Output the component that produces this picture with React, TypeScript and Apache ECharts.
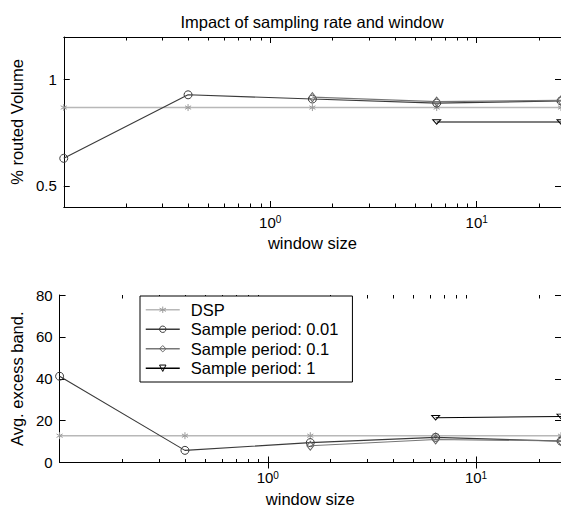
import React, { useEffect, useRef } from "react";
import * as echarts from "echarts";

const FONT = "'Liberation Sans', Arial, Helvetica, sans-serif";
const LABEL_SIZE = 16.5;

// window sizes (x values, log axis)
const windowSizes = [0.1, 0.4, 1.6, 6.4, 25.6];
const seriesNames = ["DSP", "Sample period: 0.01", "Sample period: 0.1", "Sample period: 1"];

// Top panel: % routed Volume
const routedDSP = [0.868, 0.868, 0.868, 0.868, 0.868];
const routed001 = [0.629, 0.928, 0.908, 0.889, 0.899];
const routed01 = [null, null, 0.917, 0.896, 0.902];
const routed1 = [null, null, null, 0.8, 0.8];

// Bottom panel: Avg. excess band.
const bandDSP = [12.8, 12.8, 12.8, 12.8, 12.8];
const band001 = [41.2, 5.8, 9.5, 12.0, 10.2];
const band01 = [null, null, 8.0, 11.0, 10.3];
const band1 = [null, null, null, 21.4, 22.0];

// Ticks
const xMajorTicks = [1, 10];
const xMinorTicks = [0.2, 0.3, 0.4, 0.5, 0.6, 0.7, 0.8, 0.9, 2, 3, 4, 5, 6, 7, 8, 9, 20];
const topYTicks = [0.5, 1];
const bottomYTicks = [0, 20, 40, 60, 80];

const X_MIN = 0.1;
const X_MAX = 25.6;
const TOP_Y = [0.4, 1.2];
const BOT_Y = [0, 80];

const styles = [
  {
    color: "#b8b8b8",
    symbolColor: "#9a9a9a",
    width: 1.5,
    symbol: "path://M5,0L5,10M0.67,2.5L9.33,7.5M0.67,7.5L9.33,2.5",
    size: 7,
  },
  { color: "#3a3a3a", symbolColor: "#3a3a3a", width: 1.1, symbol: "circle", size: 8 },
  { color: "#777777", symbolColor: "#666666", width: 1.1, symbol: "diamond", size: [7, 9] },
  { color: "#000000", symbolColor: "#000000", width: 1.1, symbol: "path://M0,0L10,0L5,7.5Z", size: [8, 6] },
];

function pairs(vals: (number | null)[]) {
  return windowSizes
    .map((x, i) => [x, vals[i]])
    .filter((p) => p[1] !== null && p[1] !== undefined);
}

function makeSeries(idx: number, vals: (number | null)[], xAxisIndex: number, yAxisIndex: number) {
  const s = styles[idx];
  return {
    type: "line",
    name: seriesNames[idx],
    xAxisIndex,
    yAxisIndex,
    data: pairs(vals),
    symbol: s.symbol,
    symbolSize: s.size,
    symbolKeepAspect: true,
    showAllSymbol: true,
    clip: false,
    lineStyle: { color: s.color, width: s.width },
    itemStyle: { color: "rgba(255,255,255,0)", borderColor: s.symbolColor, borderWidth: 1 },
    emphasis: { disabled: true },
    z: 3 + idx,
  };
}

function minorTicks(xAxisIndex: number, yAxisIndex: number, yr: number[]) {
  return {
    type: "custom",
    xAxisIndex,
    yAxisIndex,
    silent: true,
    clip: false,
    data: xMinorTicks.map((v) => [v, yr[0]]),
    encode: { x: 0, y: 1 },
    z: 10,
    renderItem: (_params: any, api: any) => {
      const x = api.value(0);
      const b = api.coord([x, yr[0]]);
      const t = api.coord([x, yr[1]]);
      const px = Math.round(b[0]) + 0.5;
      return {
        type: "group",
        children: [
          { type: "line", shape: { x1: px, y1: b[1], x2: px, y2: b[1] - 3.5 }, style: { stroke: "#000", lineWidth: 1 } },
          { type: "line", shape: { x1: px, y1: t[1], x2: px, y2: t[1] + 3.5 }, style: { stroke: "#000", lineWidth: 1 } },
        ],
      };
    },
  };
}

const rich = {
  b: { fontSize: 15, lineHeight: 15, padding: [5, 0, 0, 0], verticalAlign: "bottom", color: "#000", fontFamily: FONT },
  s: { fontSize: 10, lineHeight: 10, verticalAlign: "top", color: "#000", fontFamily: FONT },
};

function xAxisPair(gridIndex: number) {
  const common = {
    gridIndex,
    type: "log",
    logBase: 10,
    min: X_MIN,
    max: X_MAX,
    axisLine: { show: true, lineStyle: { color: "#000", width: 1 } },
    axisTick: { show: true, inside: true, length: 6, customValues: xMajorTicks, lineStyle: { color: "#000" } },
    splitLine: { show: false },
    minorTick: { show: false },
  };
  return [
    {
      ...common,
      position: "bottom",
      name: "window size",
      nameLocation: "middle",
      nameGap: 27.5,
      nameTextStyle: { fontSize: LABEL_SIZE, color: "#000", fontFamily: FONT },
      axisLabel: {
        show: true,
        margin: 7.5,
        customValues: xMajorTicks,
        formatter: (v: number) => `{b|10}{s|${Math.round(Math.log10(v))}}`,
        rich,
      },
    },
    { ...common, position: "top", axisLabel: { show: false } },
  ];
}

function yAxisPair(gridIndex: number, yr: number[], ticks: number[], name: string) {
  const common = {
    gridIndex,
    type: "value",
    min: yr[0],
    max: yr[1],
    axisLine: { show: true, lineStyle: { color: "#000", width: 1 } },
    axisTick: { show: true, inside: true, length: 6, customValues: ticks, lineStyle: { color: "#000" } },
    splitLine: { show: false },
  };
  return [
    {
      ...common,
      position: "left",
      name,
      nameLocation: "middle",
      nameGap: 28,
      nameTextStyle: { fontSize: LABEL_SIZE, color: "#000", fontFamily: FONT },
      axisLabel: { show: true, margin: 7, customValues: ticks, fontSize: 15, color: "#000", fontFamily: FONT },
    },
    { ...common, position: "right", axisLabel: { show: false } },
  ];
}

const legendData = seriesNames.map((name, i) => ({
  name,
  itemStyle: { color: "rgba(255,255,255,0)", borderColor: styles[i].symbolColor, borderWidth: 1 },
  lineStyle: { color: styles[i].color, width: i === 0 ? 1.5 : 1.3 },
}));

export default function App() {
  const ref = useRef<HTMLDivElement>(null);

  useEffect(() => {
    if (!ref.current) return;
    const chart = echarts.init(ref.current, undefined, { renderer: "svg" });
    const option: any = {
      animation: false,
      backgroundColor: "#ffffff",
      textStyle: { fontFamily: FONT, color: "#000" },
      title: {
        text: "Impact of sampling rate and window",
        left: 307,
        top: 8,
        textAlign: "center",
        textStyle: { fontSize: LABEL_SIZE, fontWeight: "normal", color: "#000", fontFamily: FONT },
      },
      grid: [
        { left: 52, top: 37, width: 510, height: 170, containLabel: false },
        { left: 52, top: 295, width: 510, height: 168, containLabel: false },
      ],
      xAxis: [...xAxisPair(0), ...xAxisPair(1)],
      yAxis: [
        ...yAxisPair(0, TOP_Y, topYTicks, "% routed Volume"),
        ...yAxisPair(1, BOT_Y, bottomYTicks, "Avg. excess band."),
      ],
      legend: {
        data: legendData,
        orient: "vertical",
        left: 140,
        top: 296,
        itemWidth: 34,
        itemHeight: 8,
        itemGap: 0,
        padding: [4, 14, 4, 5],
        backgroundColor: "#ffffff",
        borderColor: "#000",
        borderWidth: 1,
        borderRadius: 0,
        selectedMode: false,
        textStyle: { fontSize: LABEL_SIZE, lineHeight: 19.5, padding: [0, 0, 0, 6], color: "#000", fontFamily: FONT },
        z: 20,
      },
      series: [
        makeSeries(0, routedDSP, 0, 0),
        makeSeries(1, routed001, 0, 0),
        makeSeries(2, routed01, 0, 0),
        makeSeries(3, routed1, 0, 0),
        makeSeries(0, bandDSP, 2, 2),
        makeSeries(1, band001, 2, 2),
        makeSeries(2, band01, 2, 2),
        makeSeries(3, band1, 2, 2),
        minorTicks(0, 0, TOP_Y),
        minorTicks(2, 2, BOT_Y),
      ],
    };
    chart.setOption(option);
    return () => chart.dispose();
  }, []);

  return (
    <div
      ref={ref}
      style={{ position: "absolute", left: 0, top: 0, width: 561, height: 508, background: "#fff" }}
    />
  );
}
